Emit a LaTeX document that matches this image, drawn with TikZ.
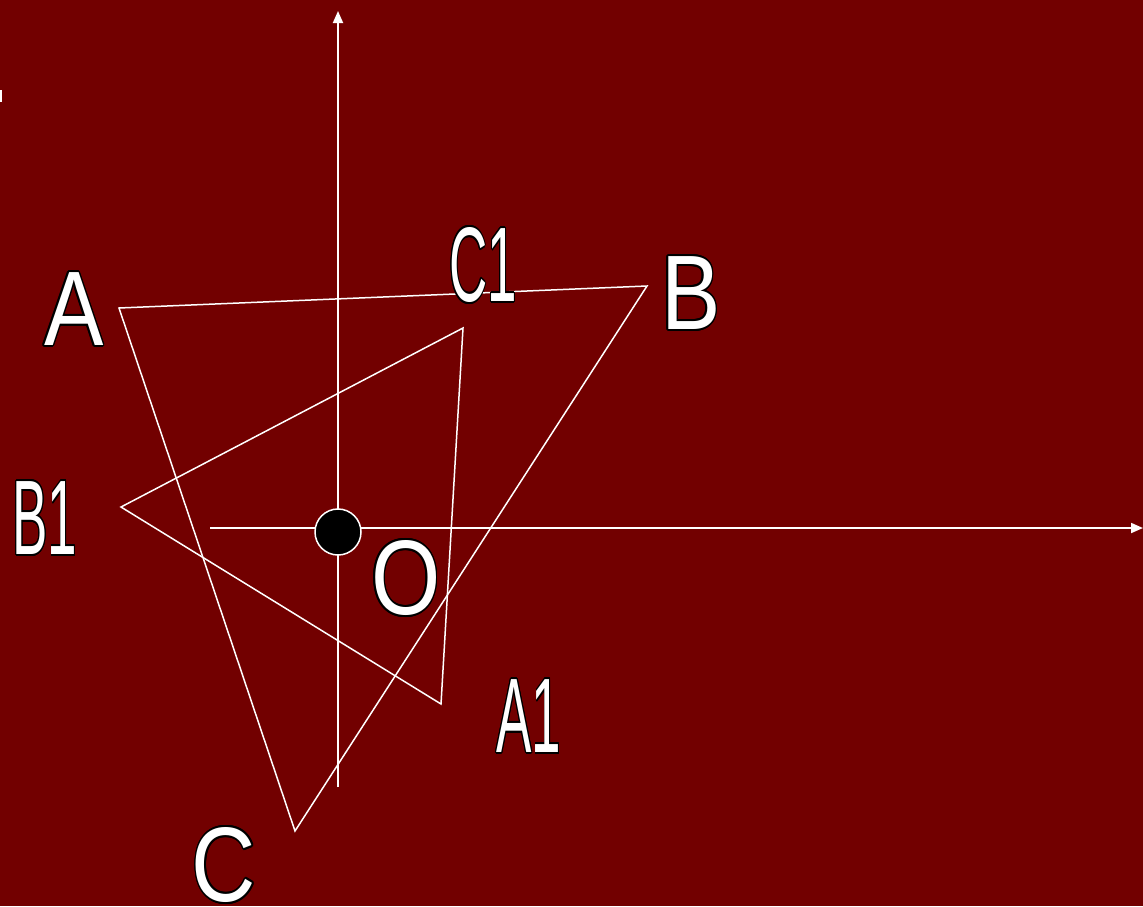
\documentclass[tikz,border=0pt]{standalone}
\usepackage{fontspec}
\setmainfont{Liberation Sans}
\usepackage{graphicx}
\usepackage{contour}
\contourlength{1.8pt}
\usetikzlibrary{arrows.meta}
\definecolor{slidered}{RGB}{114,0,0}
\newcommand{\thinlbl}[1]{\scalebox{0.5}[1]{\contour{black}{#1}}}
\newcommand{\vertlbl}[1]{\scalebox{0.84}[1]{\contour{black}{#1}}}

\begin{document}
\begin{tikzpicture}[x=1pt, y=-1pt,
    axis/.style={draw=white, line width=1.8pt, -{Triangle[length=12pt, width=10pt]}},
    edge/.style={draw=white, line width=1.5pt, line join=miter},
    vlabel/.style={inner sep=0pt, text=white, font=\fontsize{106}{106}\selectfont}
]
\fill[slidered] (0,0) rectangle (1143,906);
\useasboundingbox (0,0) rectangle (1143,906);
\fill[white] (0,90) rectangle (2,102);

% axes
\coordinate (ybot) at (338,787);
\coordinate (ytop) at (338,11);
\coordinate (xleft) at (210,528);
\coordinate (xright) at (1143,528);
\draw[axis] (ybot) -- (ytop);
\draw[axis] (xleft) -- (xright);

% triangle ABC
\coordinate (a) at (119,308);
\coordinate (b) at (647,286);
\coordinate (c) at (295,831);
\draw[edge] (a) -- (b) -- (c) -- cycle;

% triangle A1B1C1
\coordinate (a1) at (441,704);
\coordinate (b1) at (121,507);
\coordinate (c1) at (463,328);
\draw[edge] (a1) -- (b1) -- (c1) -- cycle;

% centre
\node[circle, fill=black, draw=white, line width=1.5pt, minimum size=46pt, inner sep=0pt] (o) at (338,532) {};

% labels
\node[vlabel] (la) at (74,310) {\vertlbl{A}};
\node[vlabel] (lb) at (691,294) {\vertlbl{B}};
\node[vlabel] (lc) at (224,866) {\vertlbl{C}};
\node[vlabel] (lo) at (406,579) {\vertlbl{O}};
\node[vlabel] (lc1) at (483,266) {\thinlbl{C1}};
\node[vlabel] (lb1) at (45,519) {\thinlbl{B1}};
\node[vlabel] (la1) at (529,717) {\thinlbl{A1}};
\end{tikzpicture}
\end{document}
